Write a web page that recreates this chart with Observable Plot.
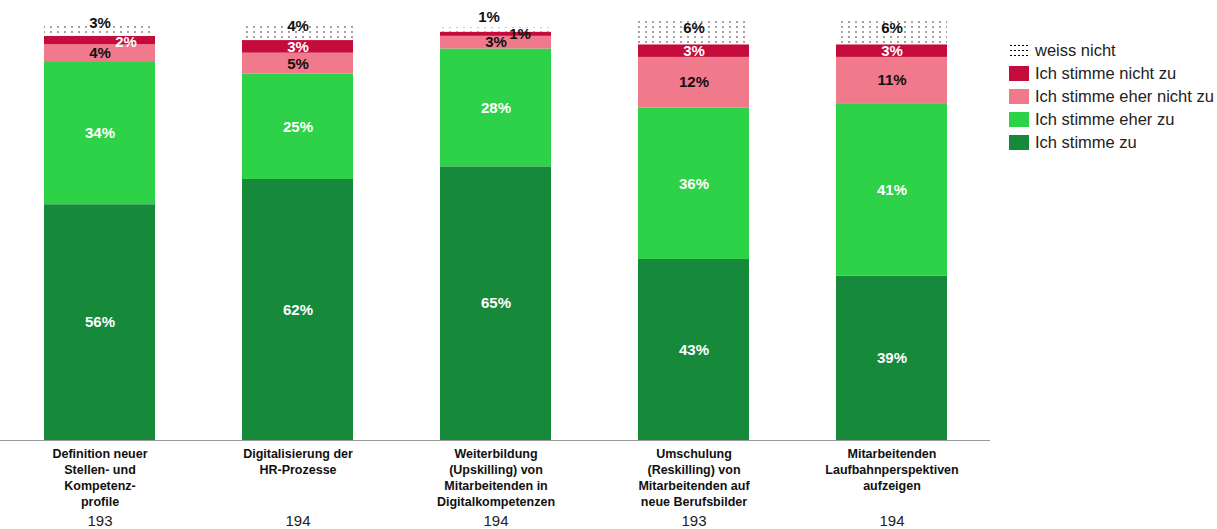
<!DOCTYPE html>
<html>
<head>
<meta charset="utf-8">
<script src="https://cdn.jsdelivr.net/npm/d3@7"></script>
<script src="https://cdn.jsdelivr.net/npm/@observablehq/plot@0.6"></script>
<style>
  body { margin: 0; background: #fff; font-family: "Liberation Sans", Arial, sans-serif; }
  #wrap { position: relative; width: 1217px; height: 529px; overflow: hidden; }
  #legend { position: absolute; left: 1009px; top: 39px; font-size: 16.5px; color: #222; }
  .item { display: flex; align-items: center; height: 23px; }
  .sw { width: 20px; height: 15px; margin-right: 6px; }
</style>
</head>
<body>
<div id="wrap"><div id="chart"></div><div id="legend"></div></div>
<script>
const categories = [
  "Definition neuer\nStellen- und\nKompetenz-\nprofile",
  "Digitalisierung der\nHR-Prozesse",
  "Weiterbildung\n(Upskilling) von\nMitarbeitenden in\nDigitalkompetenzen",
  "Umschulung\n(Reskilling) von\nMitarbeitenden auf\nneue Berufsbilder",
  "Mitarbeitenden\nLaufbahnperspektiven\naufzeigen"
];
const counts = [193, 194, 194, 193, 194];
const series = ["Ich stimme zu", "Ich stimme eher zu", "Ich stimme eher nicht zu", "Ich stimme nicht zu", "weiss nicht"];
const stimmeZu        = [56, 62, 65, 43, 39];
const stimmeEherZu    = [34, 25, 28, 36, 41];
const eherNichtZu     = [4, 5, 3, 12, 11];
const nichtZu         = [2, 3, 1, 3, 3];
const weissNicht      = [3, 4, 1, 6, 6];

const colors = ["#17893b", "#2ed248", "#f07a8b", "#c40b3c", "url(#dots)"];
const textColors = ["#fff", "#fff", "#111", "#fff", "#111"];
// label nudges for tiny segments: key "catIndex-seriesIndex" -> [dx, dy, color]
const nudges = {
  "0-3": [26, 2, "#fff"],
  "0-4": [0, -7, "#111"],
  "1-4": [0, -6, "#111"],
  "2-4": [-7, -13, "#111"],
  "2-3": [24, 0, "#111"],
  "3-4": [0, -4, "#111"],
  "4-4": [0, -4, "#111"]
};

const valuesBySeries = [stimmeZu, stimmeEherZu, eherNichtZu, nichtZu, weissNicht];
const rows = [];
categories.forEach((c, i) => {
  let acc = 0;
  series.forEach((s, j) => {
    const v = valuesBySeries[j][i];
    const n = nudges[i + "-" + j] || [0, 0, textColors[j]];
    rows.push({cat: c, series: s, si: j, value: v, y1: acc, y2: acc + v, ym: acc + v / 2,
               dx: n[0], dy: n[1], tc: n[2], label: v + "%"});
    acc += v;
  });
});

const font = "Liberation Sans, Arial, sans-serif";
const textMarks = [];
rows.forEach(r => {
  textMarks.push(Plot.text([r], {x: "cat", y: "ym", text: "label", dx: r.dx, dy: r.dy, fill: r.tc,
    fontWeight: "bold", fontSize: 15, fontFamily: font}));
});

const plot = Plot.plot({
  width: 993,
  height: 529,
  marginLeft: 0,
  marginRight: 3,
  marginTop: 19,
  marginBottom: 89,
  style: {fontFamily: font, background: "#fff"},
  x: {domain: categories, paddingInner: 0.44, paddingOuter: 0.22, label: null, axis: null},
  y: {domain: [0, 100], axis: null},
  marks: [
    Plot.barY(rows, {x: "cat", y1: "y1", y2: "y2", fill: d => colors[d.si]}),
    Plot.ruleY([0], {stroke: "#9a9a9a", strokeWidth: 1.2}),
    ...textMarks,
    Plot.axisX({domain: categories, tickSize: 0, label: null, fontWeight: "bold", fontSize: 12.5,
      lineHeight: 1.28, tickPadding: 6, fill: "#111", fontFamily: font}),
    Plot.text(categories, {x: d => d, text: (d, i) => String(counts[i]), frameAnchor: "bottom",
      dy: 85, fontSize: 15, fill: "#222", fontFamily: font})
  ]
});

// dotted pattern
const svg = d3.select(plot);
const defs = svg.insert("defs", ":first-child");
const pat = defs.append("pattern").attr("id", "dots").attr("patternUnits", "userSpaceOnUse")
  .attr("width", 7).attr("height", 5);
pat.append("rect").attr("width", 7).attr("height", 5).attr("fill", "#fff");
pat.append("circle").attr("cx", 2).attr("cy", 2).attr("r", 0.7).attr("fill", "#000");

document.getElementById("chart").appendChild(plot);

// legend (top to bottom reversed stack)
const legend = d3.select("#legend");
[4, 3, 2, 1, 0].forEach(j => {
  const it = legend.append("div").attr("class", "item");
  const sw = it.append("div").attr("class", "sw");
  if (j === 4) {
    sw.style("background-image", "radial-gradient(circle, #000 0.6px, transparent 1px)")
      .style("background-size", "4px 5px");
  } else {
    sw.style("background", colors[j]);
  }
  it.append("span").text(series[j]);
});
</script>
</body>
</html>
